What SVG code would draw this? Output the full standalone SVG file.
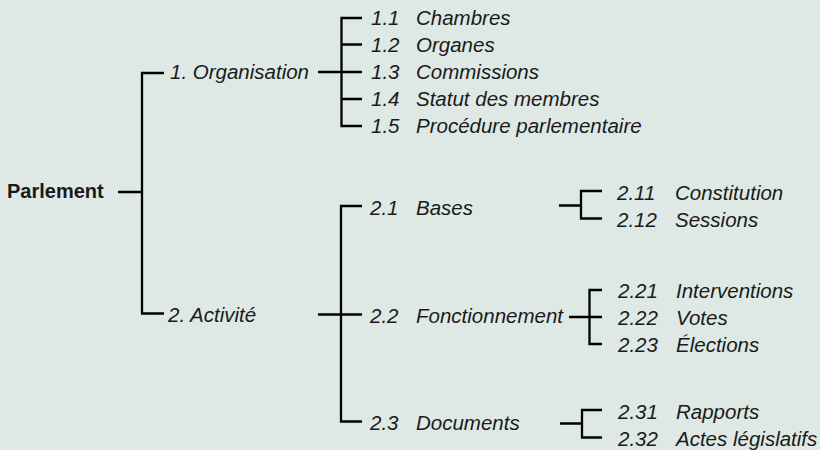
<svg xmlns="http://www.w3.org/2000/svg" width="820" height="450" viewBox="0 0 820 450">
<style>
.bg{fill:#dee9e5}
.c{fill:none;stroke:#000;stroke-width:2.3;stroke-linecap:butt;stroke-linejoin:miter}
text{font-family:"Liberation Sans",Arial,sans-serif;fill:#1a1a1a}
.i{font-style:italic;font-size:20.5px}
.b{font-weight:bold;font-size:20px}
</style>
<rect class="bg" x="0" y="0" width="820" height="450"/>
<g id="connectors">
  <path class="c" d="M118 192H142M164 73H142V313.5H164"/>
  <path class="c" d="M318 72H341.5M362 18H341.5V126H362M341.5 44.5H362M341.5 72H362M341.5 99H362"/>
  <path class="c" d="M318 314.5H362M362 206H341V421.5H362"/>
  <path class="c" d="M559 205.5H581M602 191H581V218.5H602"/>
  <path class="c" d="M569 317H602M602 290H589.5V344H602"/>
  <path class="c" d="M560 423.5H582M602 410H582V437.5H602"/>
</g>
<g id="n-parlement"><text class="b" x="7" y="198">Parlement</text></g>
<g id="n-1"><text class="i" x="170" y="79">1. Organisation</text></g>
<g id="n-1-1"><text class="i" x="371" y="25">1.1</text><text class="i" x="416" y="25">Chambres</text></g>
<g id="n-1-2"><text class="i" x="371" y="52">1.2</text><text class="i" x="416" y="52">Organes</text></g>
<g id="n-1-3"><text class="i" x="371" y="79">1.3</text><text class="i" x="416" y="79">Commissions</text></g>
<g id="n-1-4"><text class="i" x="371" y="106">1.4</text><text class="i" x="416" y="106">Statut des membres</text></g>
<g id="n-1-5"><text class="i" x="371" y="132.5">1.5</text><text class="i" x="416" y="132.5">Procédure parlementaire</text></g>
<g id="n-2"><text class="i" x="168" y="321.5">2. Activité</text></g>
<g id="n-2-1"><text class="i" x="370" y="215">2.1</text><text class="i" x="416" y="215">Bases</text></g>
<g id="n-2-2"><text class="i" x="370" y="322.5">2.2</text><text class="i" x="416" y="322.5">Fonctionnement</text></g>
<g id="n-2-3"><text class="i" x="370" y="430">2.3</text><text class="i" x="416" y="430">Documents</text></g>
<g id="n-2-11"><text class="i" x="617" y="200">2.11</text><text class="i" x="675" y="200">Constitution</text></g>
<g id="n-2-12"><text class="i" x="617" y="227">2.12</text><text class="i" x="675" y="227">Sessions</text></g>
<g id="n-2-21"><text class="i" x="618" y="298">2.21</text><text class="i" x="676" y="298">Interventions</text></g>
<g id="n-2-22"><text class="i" x="618" y="325">2.22</text><text class="i" x="676" y="325">Votes</text></g>
<g id="n-2-23"><text class="i" x="618" y="351.5">2.23</text><text class="i" x="676" y="351.5">Élections</text></g>
<g id="n-2-31"><text class="i" x="618" y="419">2.31</text><text class="i" x="676" y="419">Rapports</text></g>
<g id="n-2-32"><text class="i" x="618" y="446">2.32</text><text class="i" x="676" y="446">Actes législatifs</text></g>
</svg>
